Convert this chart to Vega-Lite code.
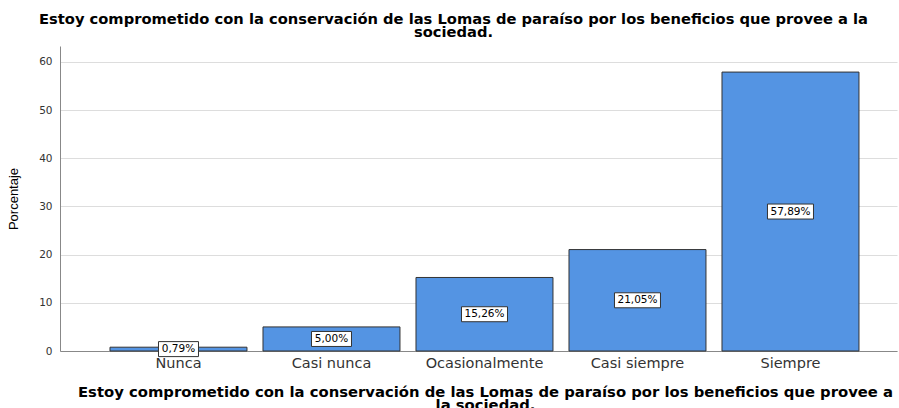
{
  "$schema": "https://vega.github.io/schema/vega-lite/v6.json",
  "width": 837,
  "height": 305,
  "autosize": "none",
  "padding": {"left": 60, "top": 46, "right": 2, "bottom": 57},
  "background": "white",
  "title": {
    "text": ["Estoy comprometido con la conservación de las Lomas de paraíso por los beneficios que provee a la", "sociedad."],
    "anchor": "middle",
    "frame": "group",
    "dx": -25,
    "offset": 6,
    "font": "DejaVu Sans",
    "fontSize": 14.7,
    "fontWeight": "bold",
    "color": "black",
    "lineHeight": 13
  },
  "data": {
    "values": [
      {"cat": "Nunca", "value": 0.79, "label": "0,79%"},
      {"cat": "Casi nunca", "value": 5.0, "label": "5,00%"},
      {"cat": "Ocasionalmente", "value": 15.26, "label": "15,26%"},
      {"cat": "Casi siempre", "value": 21.05, "label": "21,05%"},
      {"cat": "Siempre", "value": 57.89, "label": "57,89%"}
    ]
  },
  "transform": [{"calculate": "datum.value / 2", "as": "mid"}],
  "encoding": {
    "x": {
      "field": "cat",
      "type": "nominal",
      "sort": null,
      "scale": {"paddingInner": 0.1046, "paddingOuter": 0.2876, "align": 0.568},
      "axis": {
        "title": ["Estoy comprometido con la conservación de las Lomas de paraíso por los beneficios que provee a", "la sociedad."],
        "titleFont": "DejaVu Sans",
        "titleFontSize": 14.8,
        "titleFontWeight": "bold",
        "titleColor": "black",
        "titleLineHeight": 12.5,
        "titlePadding": 15,
        "titleX": 425,
        "labelAngle": 0,
        "labelFont": "DejaVu Sans",
        "labelFontSize": 14.5,
        "labelColor": "#333333",
        "labelPadding": 5,
        "ticks": false,
        "domainColor": "#888888",
        "grid": false
      }
    }
  },
  "layer": [
    {
      "mark": {"type": "bar", "fill": "#5494E3", "stroke": "#333333", "strokeWidth": 1},
      "encoding": {
        "y": {
          "field": "value",
          "type": "quantitative",
          "scale": {"domain": [0, 63.3], "nice": false},
          "axis": {
            "values": [0, 10, 20, 30, 40, 50, 60],
            "title": "Porcentaje",
            "titleFont": "Liberation Sans",
            "titleFontSize": 13,
            "titleFontWeight": "normal",
            "titleColor": "black",
            "titlePadding": 18,
            "labelFont": "DejaVu Sans",
            "labelFontSize": 10.5,
            "labelColor": "#333333",
            "labelPadding": 8,
            "ticks": false,
            "domainColor": "#888888",
            "gridColor": "#dddddd"
          }
        }
      }
    },
    {
      "mark": {"type": "point", "filled": true, "fill": "white", "stroke": "#333333", "strokeWidth": 1, "opacity": 1},
      "encoding": {
        "y": {"field": "mid", "type": "quantitative"},
        "shape": {
          "condition": {"test": "datum.value < 10", "value": "M-1,-0.375 L1,-0.375 L1,0.375 L-1,0.375 Z"},
          "value": "M-1,-0.326 L1,-0.326 L1,0.326 L-1,0.326 Z"
        },
        "size": {
          "condition": {"test": "datum.value < 10", "value": 1600},
          "value": 2116
        }
      }
    },
    {
      "mark": {"type": "text", "font": "DejaVu Sans", "fontSize": 10.5, "color": "black", "baseline": "middle"},
      "encoding": {
        "y": {"field": "mid", "type": "quantitative"},
        "text": {"field": "label"}
      }
    }
  ],
  "config": {
    "view": {"stroke": null}
  }
}
